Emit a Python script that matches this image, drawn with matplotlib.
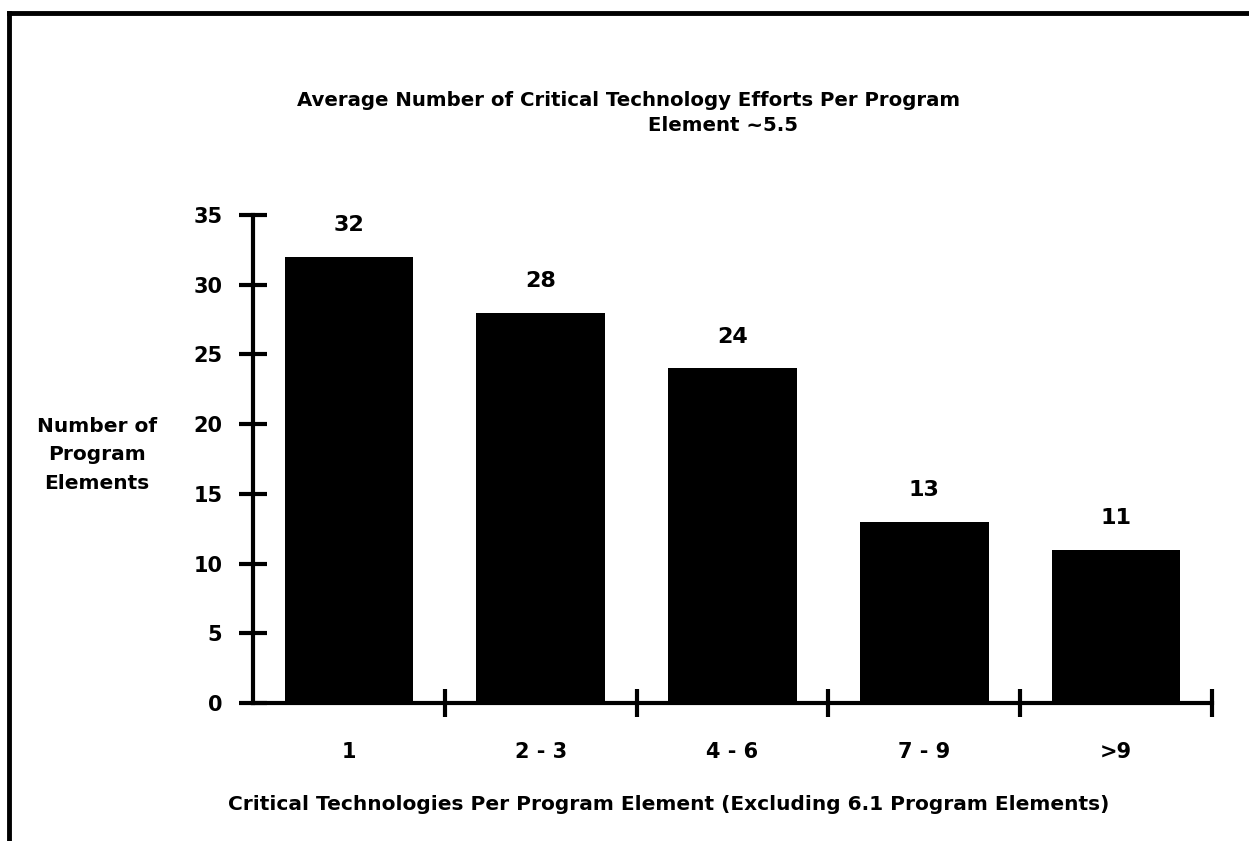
import matplotlib
matplotlib.use("Agg")
import matplotlib.pyplot as plt
from matplotlib.lines import Line2D

# data
categories = ["1", "2 - 3", "4 - 6", "7 - 9", ">9"]
counts = [32, 28, 24, 13, 11]
y_ticks = [0, 5, 10, 15, 20, 25, 30, 35]

plt.rcParams["font.family"] = ["DejaVu Sans"]
plt.rcParams["font.weight"] = "bold"

fig = plt.figure(figsize=(12.49, 8.41), dpi=100)
ax = fig.add_axes([0.2026, 0.1641, 0.7678, 0.5803])

x = list(range(len(categories)))
bars = ax.bar(x, counts, width=0.67, color="black")

# value labels above bars
for xi, v in zip(x, counts):
    ax.text(xi, v + 1.55, str(v), ha="center", va="bottom", fontsize=16, fontweight="bold")

ax.set_xlim(-0.5, len(categories) - 0.5)
ax.set_ylim(0, 35)
ax.set_yticks(y_ticks)
ax.tick_params(axis="y", direction="inout", length=20, width=3, labelsize=15, pad=12)

# category labels at centers, tick marks at boundaries
ax.set_xticks(x)
ax.set_xticklabels(categories, fontsize=15, fontweight="bold")
ax.tick_params(axis="x", which="major", length=0, pad=28)
ax.set_xticks([i + 0.5 for i in x], minor=True)
ax.tick_params(axis="x", which="minor", direction="inout", length=20, width=3)

for s in ["top", "right"]:
    ax.spines[s].set_visible(False)
for s in ["left", "bottom"]:
    ax.spines[s].set_linewidth(3)

ax.set_xlabel("Critical Technologies Per Program Element (Excluding 6.1 Program Elements)",
              fontsize=14.5, fontweight="bold")
ax.xaxis.set_label_coords(0.433, -0.188)

fig.text(0.0775, 0.459, "Number of\nProgram\nElements", ha="center", va="center",
         fontsize=14.5, fontweight="bold", linespacing=1.65)

fig.text(0.503, 0.880, "Average Number of Critical Technology Efforts Per Program",
         ha="center", va="center", fontsize=14.2, fontweight="bold")
fig.text(0.579, 0.851, "Element ~5.5", ha="center", va="center", fontsize=14.2, fontweight="bold")

# page frame (left and top edges)
fig.add_artist(Line2D([0.007, 0.007], [0.0, 0.985], transform=fig.transFigure,
                      color="black", linewidth=3.5))
fig.add_artist(Line2D([0.007, 1.0], [0.985, 0.985], transform=fig.transFigure,
                      color="black", linewidth=3.5))

fig.savefig("out.png", dpi=100, facecolor="white")
